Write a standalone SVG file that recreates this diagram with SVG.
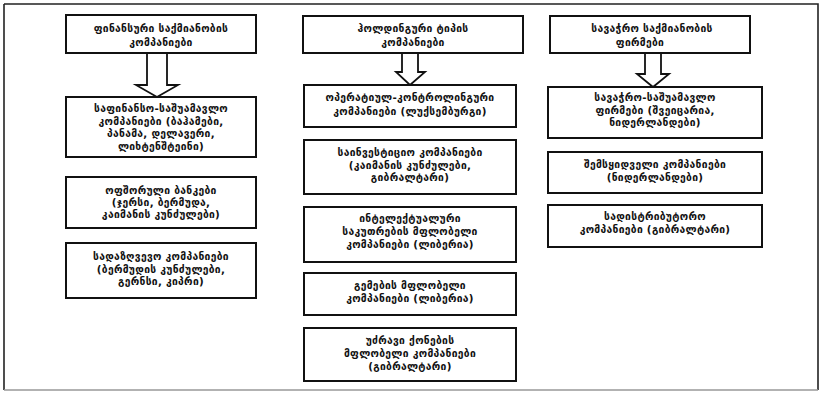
<svg xmlns="http://www.w3.org/2000/svg" width="823" height="394" viewBox="0 0 823 394">
<style>
.bx{fill:#fff;stroke:#111;stroke-width:2}
.ar{fill:#fff;stroke:#111;stroke-width:1.8;stroke-linejoin:miter}
.fr{stroke:#222;stroke-width:1.6;fill:none}
.t{font-family:"DejaVu Sans",sans-serif;font-weight:bold;font-size:10.3px;text-anchor:middle;fill:#111;letter-spacing:0.3px}
</style>
<rect width="823" height="394" fill="#fff"/>
<g id="frame">
<path class="fr" d="M4,4 H818 V390"/>
<path class="fr" d="M4,4 V390"/>
<path d="M4,390 H818" stroke="#999" stroke-width="1.6"/>
</g>
<g id="connectors">
<path class="ar" d="M147,53 V85 H136 L157,97 L178,85 H167 V53"/>
<path class="ar" d="M402,53 V72 H396 L410,85 L425,72 H418 V53"/>
<path class="ar" d="M645,53 V74 H637 L653,87 L669,74 H661 V53"/>
</g>
<g id="h1"><rect class="bx" x="66" y="15" width="190" height="38"/>
<text class="t" x="161" y="32">ფინანსური საქმიანობის</text>
<text class="t" x="161" y="46">კომპანიები</text></g>
<g id="h2"><rect class="bx" x="303" y="16" width="220" height="37"/>
<text class="t" x="413" y="32">ჰოლდინგური ტიპის</text>
<text class="t" x="413" y="46">კომპანიები</text></g>
<g id="h3"><rect class="bx" x="550" y="16" width="200" height="37"/>
<text class="t" x="652" y="32">სავაჭრო საქმიანობის</text>
<text class="t" x="640" y="46">ფირმები</text></g>
<g id="c1b1"><rect class="bx" x="66" y="97" width="190" height="60"/>
<text class="t" x="161" y="112">საფინანსო-საშუამავლო</text>
<text class="t" x="161" y="124.5">კომპანიები (ბაჰამები,</text>
<text class="t" x="161" y="137">პანამა, დელავერი,</text>
<text class="t" x="161" y="149.5">ლიხტენშტეინი)</text></g>
<g id="c1b2"><rect class="bx" x="66" y="177" width="190" height="51"/>
<text class="t" x="161" y="194">ოფშორული ბანკები</text>
<text class="t" x="161" y="206">(ჯერსი, ბერმუდა,</text>
<text class="t" x="161" y="218">კაიმანის კუნძულები)</text></g>
<g id="c1b3"><rect class="bx" x="66" y="243" width="190" height="55"/>
<text class="t" x="161" y="260">სადაზღვევო კომპანიები</text>
<text class="t" x="161" y="272.5">(ბერმუდის კუნძულები,</text>
<text class="t" x="161" y="285">გერნსი, კიპრი)</text></g>
<g id="c2b1"><rect class="bx" x="304" y="85" width="212" height="42"/>
<text class="t" x="410" y="101">ოპერატიულ-კონტროლინგური</text>
<text class="t" x="410" y="115">კომპანიები (ლუქსემბურგი)</text></g>
<g id="c2b2"><rect class="bx" x="304" y="140" width="212" height="54"/>
<text class="t" x="410" y="156">საინვესტიციო კომპანიები</text>
<text class="t" x="410" y="168.5">(კაიმანის კუნძულები,</text>
<text class="t" x="410" y="181">გიბრალტარი)</text></g>
<g id="c2b3"><rect class="bx" x="304" y="207" width="212" height="55"/>
<text class="t" x="410" y="222">ინტელექტუალური</text>
<text class="t" x="410" y="235">საკუთრების მფლობელი</text>
<text class="t" x="410" y="248">კომპანიები (ლიბერია)</text></g>
<g id="c2b4"><rect class="bx" x="304" y="273" width="212" height="42"/>
<text class="t" x="410" y="289">გემების მფლობელი</text>
<text class="t" x="410" y="302">კომპანიები (ლიბერია)</text></g>
<g id="c2b5"><rect class="bx" x="304" y="328" width="212" height="53"/>
<text class="t" x="410" y="344">უძრავი ქონების</text>
<text class="t" x="410" y="357">მფლობელი კომპანიები</text>
<text class="t" x="410" y="370">(გიბრალტარი)</text></g>
<g id="c3b1"><rect class="bx" x="548" y="87" width="214" height="51"/>
<text class="t" x="655" y="101">სავაჭრო-საშუამავლო</text>
<text class="t" x="655" y="113.5">ფირმები (შვეიცარია,</text>
<text class="t" x="655" y="126">ნიდერლანდები)</text></g>
<g id="c3b2"><rect class="bx" x="548" y="152" width="214" height="41"/>
<text class="t" x="655" y="168">შემსყიდველი კომპანიები</text>
<text class="t" x="655" y="181">(ნიდერლანდები)</text></g>
<g id="c3b3"><rect class="bx" x="548" y="205" width="214" height="42"/>
<text class="t" x="655" y="220">სადისტრიბუტორო</text>
<text class="t" x="655" y="233">კომპანიები (გიბრალტარი)</text></g>
</svg>
